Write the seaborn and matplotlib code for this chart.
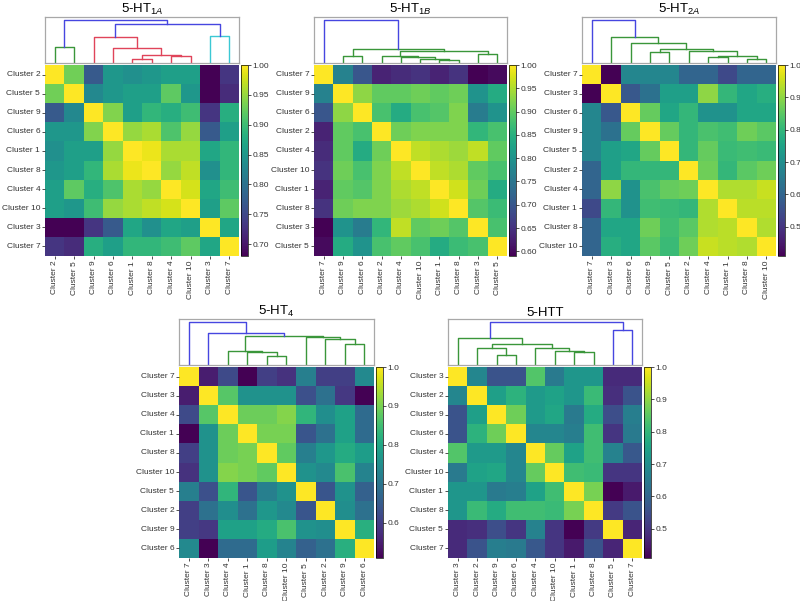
import matplotlib
matplotlib.use('Agg')
import matplotlib.pyplot as plt
import seaborn as sns
import numpy as np
import pandas as pd

plt.rcParams['font.family'] = ['Liberation Sans', 'DejaVu Sans']
plt.rcParams['mathtext.fontset'] = 'custom'
plt.rcParams['mathtext.rm'] = 'Liberation Sans'
plt.rcParams['mathtext.it'] = 'Liberation Sans:italic'

# ---- data: cluster order, lower triangle of the similarity matrix, dendrogram merges ----
ht1a_order = [2, 5, 9, 6, 1, 8, 4, 10, 3, 7]
ht1a_lower = [
    [0.93],
    [0.77, 0.83],
    [0.85, 0.85, 0.94],
    [0.84, 0.86, 0.86, 0.95],
    [0.85, 0.86, 0.89, 0.96, 0.99],
    [0.86, 0.92, 0.88, 0.91, 0.96, 0.95],
    [0.86, 0.85, 0.90, 0.95, 0.96, 0.97, 0.98],
    [0.68, 0.68, 0.73, 0.77, 0.87, 0.84, 0.87, 0.86],
    [0.73, 0.72, 0.88, 0.86, 0.89, 0.89, 0.90, 0.92, 0.87],
]
ht1a_links = [(4, 5, 0.10, 'r'), (6, 7, 0.16, 'r'), (10, 11, 0.18, 'r'), (3, 12, 0.35, 'r'),
              (2, 13, 0.61, 'r'), (8, 9, 0.62, 'c'), (0, 1, 0.375, 'g'), (14, 15, 0.90, 'b'),
              (16, 17, 1.0, 'b')]

ht1b_order = [7, 9, 6, 2, 4, 10, 1, 8, 3, 5]
ht1b_lower = [
    [0.77],
    [0.70, 0.93],
    [0.63, 0.90, 0.88],
    [0.64, 0.90, 0.84, 0.91],
    [0.65, 0.91, 0.88, 0.92, 0.96],
    [0.63, 0.90, 0.89, 0.92, 0.95, 0.96],
    [0.65, 0.91, 0.92, 0.92, 0.94, 0.95, 0.97],
    [0.59, 0.80, 0.76, 0.86, 0.96, 0.90, 0.91, 0.89],
    [0.60, 0.84, 0.80, 0.88, 0.90, 0.88, 0.84, 0.87, 0.88],
]
ht1b_links = [(6, 7, 0.07, 'g'), (5, 10, 0.10, 'g'), (4, 11, 0.13, 'g'), (3, 12, 0.16, 'g'),
              (8, 9, 0.21, 'g'), (13, 14, 0.27, 'g'), (1, 2, 0.16, 'g'), (16, 15, 0.32, 'g'),
              (0, 17, 1.0, 'b')]

ht2a_order = [7, 3, 6, 9, 5, 2, 4, 1, 8, 10]
ht2a_lower = [
    [0.41],
    [0.68, 0.57],
    [0.68, 0.63, 0.86],
    [0.68, 0.74, 0.76, 0.86],
    [0.60, 0.74, 0.80, 0.80, 0.80],
    [0.60, 0.90, 0.71, 0.83, 0.86, 0.87],
    [0.54, 0.80, 0.71, 0.82, 0.81, 0.80, 0.93],
    [0.60, 0.76, 0.76, 0.87, 0.82, 0.85, 0.93, 0.94],
    [0.60, 0.78, 0.76, 0.85, 0.81, 0.87, 0.95, 0.94, 0.93],
]
ht2a_links = [(6, 7, 0.13, 'g'), (8, 9, 0.10, 'g'), (10, 11, 0.15, 'g'), (5, 12, 0.27, 'g'),
              (3, 4, 0.25, 'g'), (14, 13, 0.33, 'g'), (2, 15, 0.46, 'g'), (1, 16, 0.59, 'g'),
              (0, 17, 1.0, 'b')]

ht4_order = [7, 3, 4, 1, 8, 10, 5, 2, 9, 6]
ht4_lower = [
    [0.55],
    [0.62, 0.87],
    [0.51, 0.76, 0.89],
    [0.60, 0.76, 0.89, 0.90],
    [0.58, 0.76, 0.91, 0.90, 0.88],
    [0.72, 0.63, 0.83, 0.64, 0.72, 0.76],
    [0.60, 0.69, 0.75, 0.69, 0.77, 0.74, 0.64],
    [0.60, 0.59, 0.79, 0.79, 0.81, 0.86, 0.76, 0.75],
    [0.74, 0.51, 0.68, 0.68, 0.78, 0.73, 0.66, 0.69, 0.82],
]
ht4_links = [(4, 5, 0.21, 'g'), (3, 10, 0.29, 'g'), (2, 11, 0.33, 'g'), (8, 9, 0.48, 'g'),
             (7, 13, 0.61, 'g'), (6, 14, 0.64, 'g'), (12, 15, 0.66, 'g'), (1, 16, 0.74, 'b'),
             (0, 17, 1.0, 'b')]

htt_order = [3, 2, 9, 6, 4, 10, 1, 8, 5, 7]
htt_lower = [
    [0.68],
    [0.56, 0.74],
    [0.56, 0.79, 0.87],
    [0.84, 0.73, 0.73, 0.68],
    [0.65, 0.75, 0.76, 0.68, 0.86],
    [0.72, 0.72, 0.65, 0.66, 0.75, 0.82],
    [0.72, 0.81, 0.77, 0.82, 0.82, 0.81, 0.88],
    [0.48, 0.49, 0.55, 0.50, 0.67, 0.50, 0.41, 0.51],
    [0.48, 0.56, 0.66, 0.65, 0.57, 0.50, 0.45, 0.56, 0.47],
]
htt_links = [(2, 3, 0.23, 'g'), (1, 10, 0.39, 'g'), (6, 7, 0.29, 'g'), (5, 12, 0.33, 'g'),
             (4, 13, 0.40, 'g'), (11, 14, 0.48, 'g'), (0, 15, 0.62, 'g'), (8, 9, 0.81, 'b'),
             (16, 17, 1.0, 'b')]

titles = [r'5-HT$_{1A}$', r'5-HT$_{1B}$', r'5-HT$_{2A}$', r'5-HT$_4$', '5-HTT']

link_colors = {'b': '#4646e0', 'g': '#3a963a', 'r': '#e0445a', 'c': '#3cc8d4'}


def full_matrix(lower):
    n = len(lower) + 1
    m = np.ones((n, n))
    for i, row in enumerate(lower, start=1):
        for j, v in enumerate(row):
            m[i, j] = v
            m[j, i] = v
    return m


def draw_dendro(ax, links, n=10):
    pos = {i: i + 0.5 for i in range(n)}
    hgt = {i: 0.0 for i in range(n)}
    for k, (a, b, h, c) in enumerate(links):
        xa, xb = pos[a], pos[b]
        ax.plot([xa, xa, xb, xb], [hgt[a], h, h, hgt[b]], color=link_colors[c], lw=1.0)
        pos[n + k] = (xa + xb) / 2
        hgt[n + k] = h
    ax.set_xlim(0, n)
    ax.set_ylim(0, 1.06)
    ax.set_xticks([])
    ax.set_yticks([])
    for s in ax.spines.values():
        s.set_color('#a8a8a8')
        s.set_linewidth(0.9)


def panel(fig, x0, x1, ytop, title, order, lower, links, ticks, fmt):
    W, H = 800, 601
    dtop, dbot = ytop, ytop + 46
    htop, hbot = ytop + 48, ytop + 239
    ax_d = fig.add_axes([x0 / W, 1 - dbot / H, (x1 - x0) / W, (dbot - dtop) / H])
    ax_h = fig.add_axes([x0 / W, 1 - hbot / H, (x1 - x0) / W, (hbot - htop) / H])
    ax_c = fig.add_axes([(x1 + 2) / W, 1 - hbot / H, 6.5 / W, (hbot - htop) / H])

    draw_dendro(ax_d, links)
    ax_d.set_title(title, fontsize=9.5, pad=1.5)

    labels = [f'Cluster {c}' for c in order]
    df = pd.DataFrame(full_matrix(lower), index=labels, columns=labels)
    sns.heatmap(df, ax=ax_h, cmap='viridis', cbar_ax=ax_c,
                cbar_kws={'ticks': ticks, 'format': fmt})
    ax_h.tick_params(labelsize=6, length=2, width=0.6, pad=1.5, colors='#333333')
    ax_h.set_xticklabels(labels, rotation=90)
    ax_h.set_yticklabels(labels, rotation=0)
    ax_c.tick_params(labelsize=6, length=2, width=0.6, pad=1.5, colors='#333333')
    cb = ax_h.collections[0].colorbar
    if cb is not None:
        cb.outline.set_linewidth(0.5)


fig = plt.figure(figsize=(8.0, 6.01), dpi=100)
fig.patch.set_facecolor('white')

t05 = [0.70, 0.75, 0.80, 0.85, 0.90, 0.95, 1.00]
panel(fig, 45, 239, 17, titles[0], ht1a_order, ht1a_lower, ht1a_links, t05, '%.2f')
t05b = [0.60, 0.65, 0.70, 0.75, 0.80, 0.85, 0.90, 0.95, 1.00]
panel(fig, 314, 507, 17, titles[1], ht1b_order, ht1b_lower, ht1b_links, t05b, '%.2f')
t1 = [0.5, 0.6, 0.7, 0.8, 0.9, 1.0]
panel(fig, 582, 776, 17, titles[2], ht2a_order, ht2a_lower, ht2a_links, t1, '%.1f')
panel(fig, 179, 374, 319, titles[3], ht4_order, ht4_lower, ht4_links, t1[1:], '%.1f')
panel(fig, 448, 642, 319, titles[4], htt_order, htt_lower, htt_links, t1, '%.1f')

fig.savefig('out.png', dpi=100, facecolor='white')
